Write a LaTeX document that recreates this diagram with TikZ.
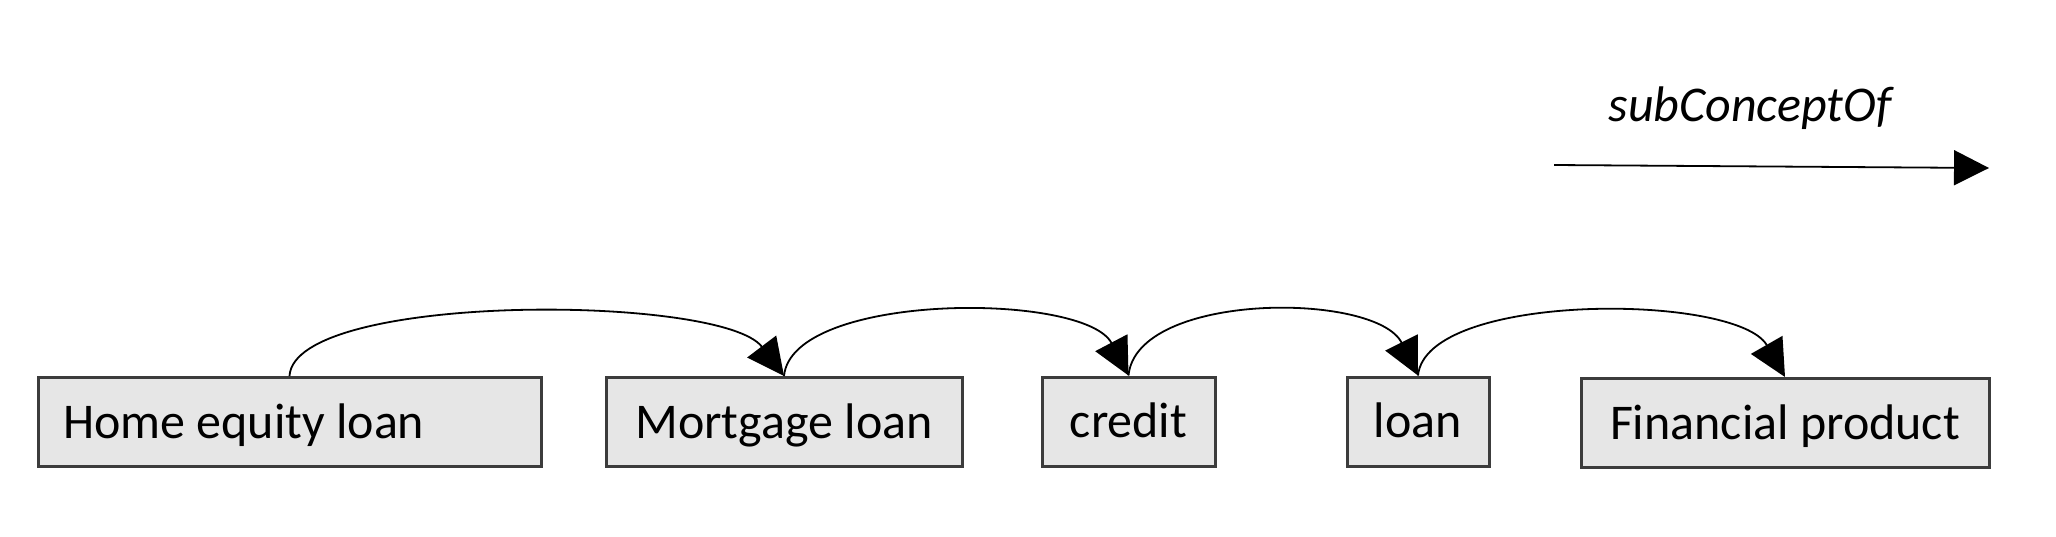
\documentclass[tikz,border=0pt]{standalone}
\usepackage{fontspec}
\setmainfont{Carlito}
\usetikzlibrary{arrows.meta}
\definecolor{boxfill}{HTML}{E6E6E6}
\definecolor{boxdraw}{HTML}{3C3C3C}
\begin{document}
\begin{tikzpicture}[x=1pt,y=-1pt,
  concept/.style={draw=boxdraw, fill=boxfill, line width=3pt, minimum height=89pt,
    text height=32pt, text depth=0pt, inner sep=0pt, font=\fontsize{50}{60}\selectfont},
  subof/.style={line width=1.8pt, -{Triangle[length=37pt,width=36pt]}}]
\useasboundingbox (0,0) rectangle (2056,536);
\node[concept, inner xsep=25pt] (home) at (289.5,422) {\makebox[453pt][l]{Home equity loan}};
\node[concept, minimum width=356pt] (mort) at (784,422) {Mortgage loan};
\node[concept, minimum width=173pt] (credit) at (1128.5,421.5) {credit};
\node[concept, minimum width=142pt] (loan) at (1418,421.5) {loan};
\node[concept, minimum width=408pt] (fin) at (1785,423) {Financial product};
\draw[subof] (home.north) .. controls +(5,-84) and +(-62,-82) .. (mort.north);
\draw[subof] (mort.north) .. controls +(8,-84) and +(-44,-84) .. (credit.north);
\draw[subof] (credit.north) .. controls +(8,-84) and +(-42,-84) .. (loan.north);
\draw[subof] (loan.north) .. controls +(8,-84) and +(-48,-84) .. (fin.north);
\coordinate (ls) at (1554,165);
\coordinate (le) at (1989,168);
\draw[line width=1.8pt, -{Triangle[length=35pt,width=35pt]}] (ls) -- (le);
\node[font=\itshape\fontsize{50}{60}\selectfont, anchor=base, inner sep=0pt] (lbl) at (1750,121) {subConceptOf};
\end{tikzpicture}
\end{document}
